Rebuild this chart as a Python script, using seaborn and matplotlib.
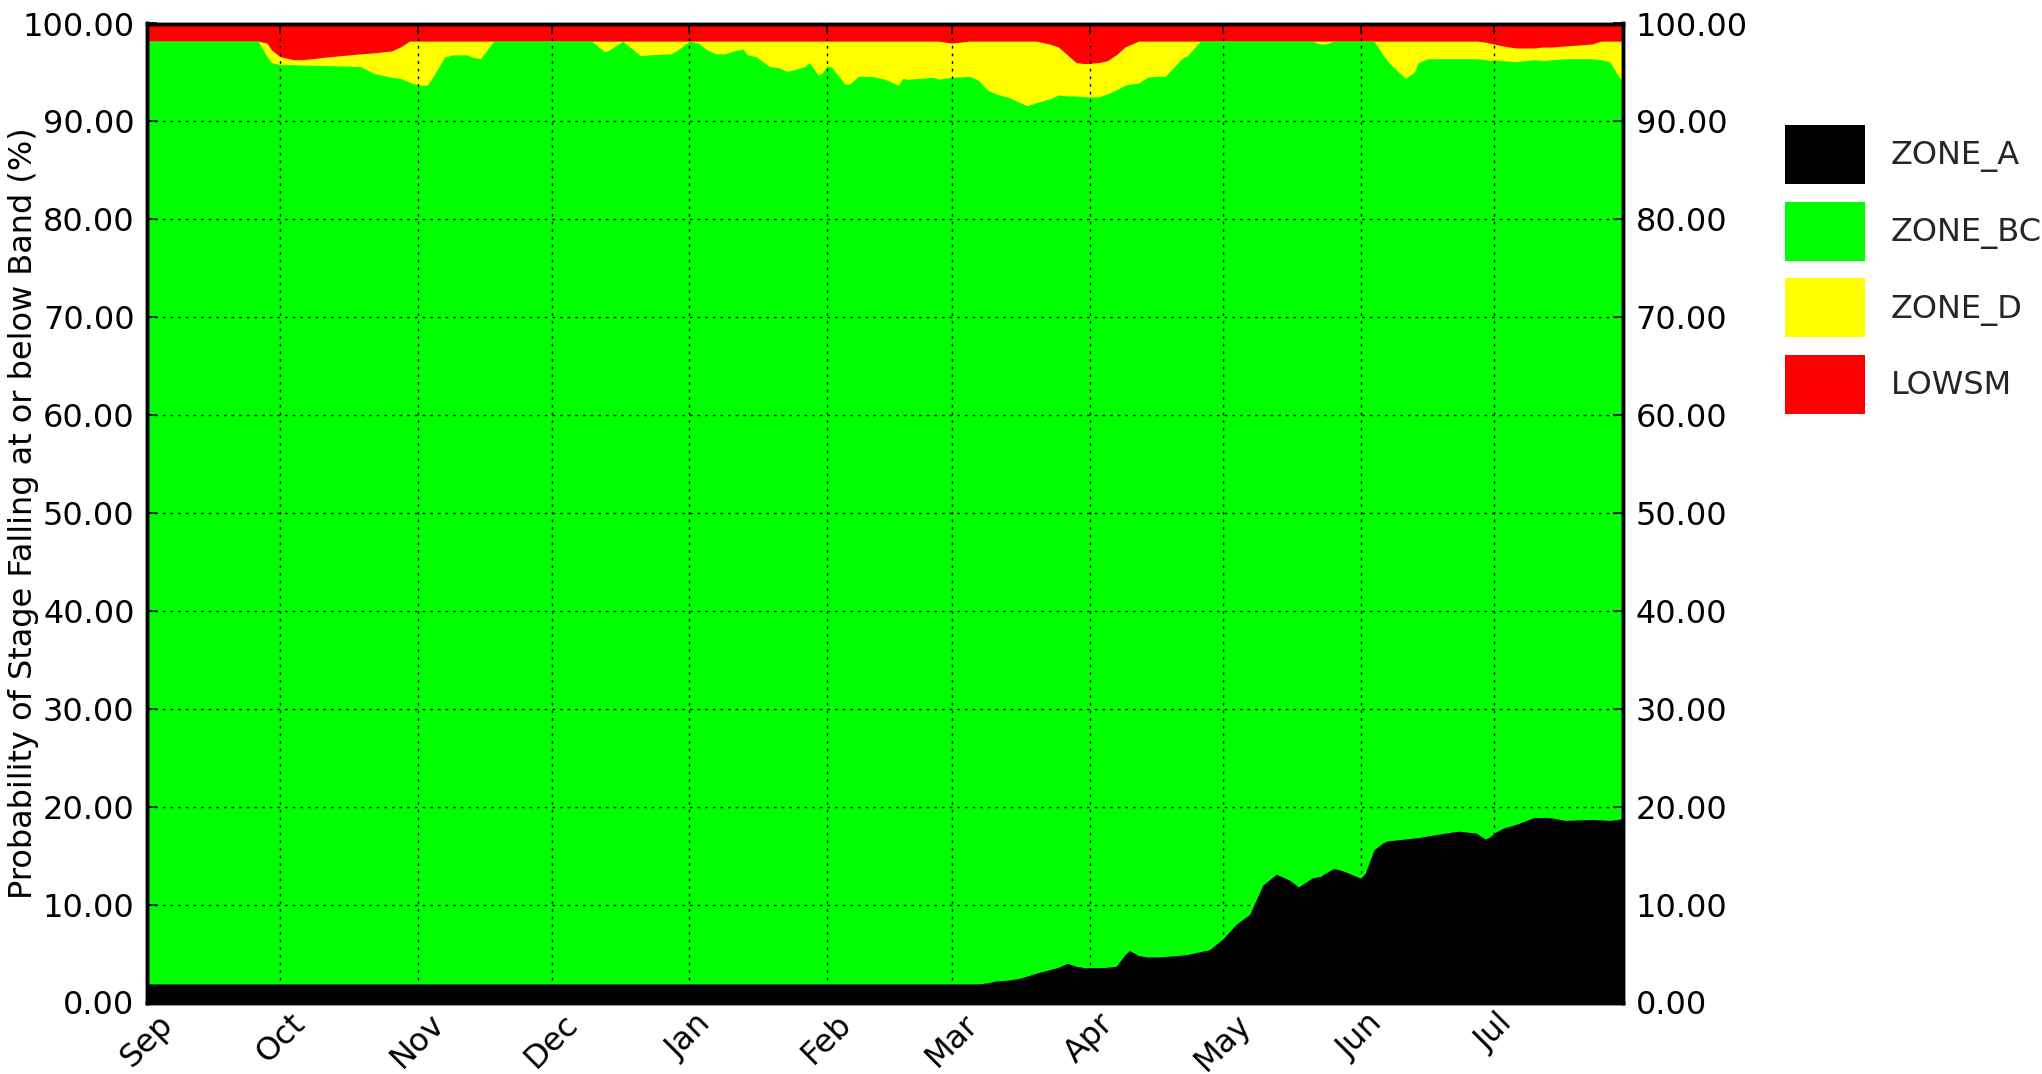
import numpy as np
import pandas as pd
import matplotlib
matplotlib.use("Agg")
import matplotlib.pyplot as plt
import matplotlib.dates as mdates
from matplotlib.patches import Patch
from matplotlib.ticker import FormatStrFormatter
import seaborn as sns

# ---------------- data (cumulative probability, %) ----------------
start_date = "2018-09-01"
# day offsets from start_date
day = [0, 25, 27, 28, 30, 33, 35, 41, 48, 51, 55, 57, 59, 61, 63, 64, 67, 69, 72, 73,
       75, 78, 100, 103, 104, 107, 111, 113, 118, 120, 122, 124, 126, 128, 130, 132, 134, 135, 137, 140,
       142, 144, 145, 148, 149, 151, 152, 153, 154, 156, 157, 158, 160, 163, 166, 169, 170, 171, 174, 177,
       178, 181, 185, 187, 189, 191, 194, 196, 198, 200, 203, 205, 207, 209, 211, 214, 216, 218, 220, 221,
       223, 225, 227, 229, 233, 234, 237, 239, 242, 245, 248, 251, 254, 257, 259, 262, 264, 265, 267, 269,
       273, 274, 276, 278, 279, 280, 283, 285, 286, 288, 292, 295, 299, 301, 302, 303, 305, 308, 312, 314,
       316, 319, 322, 325, 327, 329, 331, 332]

# probability of stage at or below top of ZONE_A
below_zone_a = [1.9, 1.9, 1.9, 1.9, 1.9, 1.9, 1.9, 1.9, 1.9, 1.9, 1.9, 1.9, 1.9, 1.9, 1.9, 1.9, 1.9, 1.9, 1.9, 1.9,
                1.9, 1.9, 1.9, 1.9, 1.9, 1.9, 1.9, 1.9, 1.9, 1.9, 1.9, 1.9, 1.9, 1.9, 1.9, 1.9, 1.9, 1.9, 1.9, 1.9,
                1.9, 1.9, 1.9, 1.9, 1.9, 1.9, 1.9, 1.9, 1.9, 1.9, 1.9, 1.9, 1.9, 1.9, 1.9, 1.9, 1.9, 1.9, 1.9, 1.9,
                1.9, 1.9, 1.9, 1.9, 2.0, 2.2, 2.3, 2.45, 2.7, 3.0, 3.35, 3.6, 4.0, 3.7, 3.55, 3.55, 3.6, 3.7, 4.9, 5.3,
                4.8, 4.65, 4.65, 4.7, 4.85, 4.9, 5.2, 5.4, 6.5, 8.0, 9.0, 12.0, 13.1, 12.5, 11.8, 12.7, 12.9, 13.2, 13.7, 13.45,
                12.7, 13.2, 15.6, 16.3, 16.5, 16.55, 16.7, 16.8, 16.85, 17.0, 17.3, 17.5, 17.3, 16.7, 16.9, 17.3, 17.8, 18.2, 18.9, 18.9,
                18.85, 18.6, 18.65, 18.7, 18.65, 18.6, 18.7, 18.8]

# probability of stage at or below top of ZONE_BC
below_zone_bc = [98.2, 98.2, 96.6, 96.0, 95.8, 95.8, 95.75, 95.7, 95.6, 94.9, 94.5, 94.4, 94.0, 93.7, 93.7, 94.3, 96.6, 96.8, 96.8, 96.6,
                 96.4, 98.2, 98.2, 97.1, 97.3, 98.2, 96.7, 96.8, 96.9, 97.5, 98.2, 98.0, 97.3, 96.9, 96.9, 97.2, 97.4, 96.8, 96.6, 95.6,
                 95.5, 95.1, 95.2, 95.6, 96.0, 94.7, 95.0, 95.7, 95.5, 94.4, 93.8, 93.8, 94.6, 94.6, 94.3, 93.7, 94.4, 94.3, 94.4, 94.5,
                 94.3, 94.5, 94.6, 94.2, 93.2, 92.8, 92.4, 92.0, 91.6, 91.9, 92.3, 92.7, 92.6, 92.6, 92.5, 92.5, 92.8, 93.2, 93.7, 93.8,
                 93.9, 94.5, 94.6, 94.6, 96.5, 96.7, 98.2, 98.2, 98.2, 98.2, 98.2, 98.2, 98.2, 98.2, 98.2, 98.2, 97.9, 97.9, 98.2, 98.2,
                 98.2, 98.2, 98.2, 96.8, 96.2, 95.7, 94.4, 95.0, 96.0, 96.4, 96.4, 96.4, 96.4, 96.3, 96.2, 96.3, 96.2, 96.1, 96.3, 96.2,
                 96.3, 96.4, 96.4, 96.4, 96.3, 96.1, 94.6, 94.1]

# probability of stage at or below top of ZONE_D
below_zone_d = [98.2, 98.2, 98.0, 97.3, 96.6, 96.3, 96.3, 96.6, 96.9, 97.0, 97.2, 97.6, 98.2, 98.2, 98.2, 98.2, 98.2, 98.2, 98.2, 98.2,
                98.2, 98.2, 98.2, 98.2, 98.2, 98.2, 98.2, 98.2, 98.2, 98.2, 98.2, 98.2, 98.2, 98.2, 98.2, 98.2, 98.2, 98.2, 98.2, 98.2,
                98.2, 98.2, 98.2, 98.2, 98.2, 98.2, 98.2, 98.2, 98.2, 98.2, 98.2, 98.2, 98.2, 98.2, 98.2, 98.2, 98.2, 98.2, 98.2, 98.2,
                98.2, 98.0, 98.2, 98.2, 98.2, 98.2, 98.2, 98.2, 98.2, 98.2, 97.9, 97.6, 96.8, 96.0, 95.9, 96.0, 96.2, 96.8, 97.6, 97.8,
                98.2, 98.2, 98.2, 98.2, 98.2, 98.2, 98.2, 98.2, 98.2, 98.2, 98.2, 98.2, 98.2, 98.2, 98.2, 98.2, 98.2, 98.2, 98.2, 98.2,
                98.2, 98.2, 98.2, 98.2, 98.2, 98.2, 98.2, 98.2, 98.2, 98.2, 98.2, 98.2, 98.2, 98.1, 98.0, 97.9, 97.7, 97.5, 97.5, 97.6,
                97.6, 97.7, 97.8, 97.9, 98.2, 98.2, 98.2, 98.2]

# probability of stage at or below top of LOWSM
below_lowsm = [100.0] * len(day)

zones = ["ZONE_A", "ZONE_BC", "ZONE_D", "LOWSM"]
zone_colors = ["#000000", "#00ff00", "#ffff00", "#ff0000"]
ytick_values = [0, 10, 20, 30, 40, 50, 60, 70, 80, 90, 100]
y_label = "Probability of Stage Falling at or below Band (%)"
end_day = 332

# ---------------- build table ----------------
dates = pd.Timestamp(start_date) + pd.to_timedelta(day, unit="D")
df = pd.DataFrame({
    "date": dates,
    "ZONE_A": below_zone_a,
    "ZONE_BC": below_zone_bc,
    "ZONE_D": below_zone_d,
    "LOWSM": below_lowsm,
})

# ---------------- style ----------------
sns.set_theme(style="ticks")
plt.rcParams["font.family"] = ["DejaVu Sans"]
plt.rcParams["axes.linewidth"] = 2.5
plt.rcParams["axes.edgecolor"] = "black"

FS = 23

fig = plt.figure(figsize=(20.42, 10.74), dpi=100)
ax = fig.add_axes([147 / 2042, 1 - 1002.5 / 1074, (1623 - 147) / 2042, (1002.5 - 23.5) / 1074])
ax.set_facecolor("white")

# draw from the outermost band inward so the layers leave no seams
for zone, color in reversed(list(zip(zones, zone_colors))):
    ax.fill_between(df["date"], 0, df[zone], color=color, linewidth=0, zorder=1)

x0 = pd.Timestamp(start_date)
ax.set_xlim(x0, x0 + pd.Timedelta(days=end_day))
ax.set_ylim(0, 100)

ax.xaxis.set_major_locator(mdates.MonthLocator())
ax.xaxis.set_major_formatter(mdates.DateFormatter("%b"))
ax.set_yticks(ytick_values)
ax.yaxis.set_major_formatter(FormatStrFormatter("%.2f"))

ax.grid(True, which="major", color="black", linestyle=(0, (2, 3.5)), linewidth=1.0)
ax.set_axisbelow(False)

ax.tick_params(axis="both", which="major", direction="in", length=7, width=1.2,
               labelsize=FS, colors="black", top=True, pad=9)
ax.tick_params(axis="x", pad=4)
for lbl in ax.get_xticklabels():
    lbl.set_rotation(45)
    lbl.set_ha("center")

ax.set_ylabel(y_label, fontsize=FS, color="black")
ax.yaxis.set_label_coords(-0.073, 0.5)
ax.set_xlabel("")

ax2 = ax.twinx()
ax2.set_ylim(0, 100)
ax2.set_yticks(ytick_values)
ax2.yaxis.set_major_formatter(FormatStrFormatter("%.2f"))
ax2.tick_params(axis="y", direction="in", length=7, width=1.2, labelsize=FS, colors="black", pad=9)
ax2.grid(False)
for sp in ax2.spines.values():
    sp.set_linewidth(2.5)
    sp.set_color("black")
for sp in ax.spines.values():
    sp.set_linewidth(2.5)
    sp.set_color("black")
    sp.set_zorder(5)

handles = [Patch(facecolor=c, edgecolor="none", label=z) for z, c in zip(zones, zone_colors)]
fig.legend(handles=handles, loc="upper left", bbox_to_anchor=(1785 / 2042, 1 - 125 / 1074),
           frameon=False, fontsize=23, handlelength=2.5, handleheight=2.47,
           labelspacing=0.55, handletextpad=0.8, borderpad=0, borderaxespad=0)

fig.savefig("out.png", dpi=100)
